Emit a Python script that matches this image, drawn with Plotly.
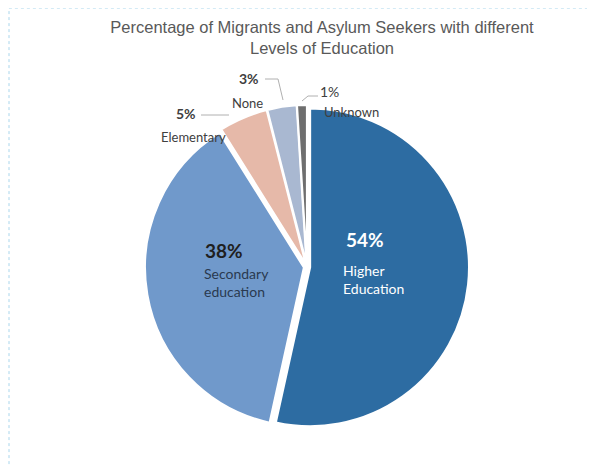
"""
Pie chart: education levels of migrants and asylum seekers.
"""

import plotly.graph_objects as go

# page shows the figure with an 8px body margin
OFF = 8
W, H = 595 - OFF, 466 - OFF

# data
levels = ["Higher Education", "Secondary education", "Elementary", "None", "Unknown"]
shares = [54, 38, 5, 3, 1]
colors = ["#2D6CA2", "#7099CB", "#E6B9A9", "#A9B8D1", "#6E6E6E"]


def px(x, y):
    """page pixel position -> paper coords"""
    return (x - OFF) / W, 1 - (y - OFF) / H


dx0, dy1 = px(145, 105)
dx1, dy0 = px(469, 429)

fig = go.Figure(go.Pie(
    labels=levels,
    values=shares,
    sort=False,
    direction="clockwise",
    rotation=0,
    marker=dict(colors=colors, line=dict(color="white", width=2)),
    pull=[0.02] * len(shares),
    textinfo="none",
    hoverinfo="label+value",
    showlegend=False,
    domain=dict(x=[dx0, dx1], y=[dy0, dy1]),
))

label_font = "Lato, 'Open Sans', sans-serif"
notes = []

# big slices, labels inside
for i, (xy, col) in enumerate([((344, 240), "white"), ((203, 250), "#1F1F1F")]):
    x, y = px(*xy)
    notes.append(dict(x=x, y=y, xanchor="left", yanchor="middle",
                      text=f"<b>{shares[i]}%</b>", showarrow=False,
                      font=dict(family=label_font, size=19, color=col)))
for i, (xy, col, txt) in enumerate([((341, 279), "white", "Higher<br>Education"),
                                    ((202, 282), "#2A3A50", "Secondary<br>education")]):
    x, y = px(*xy)
    notes.append(dict(x=x, y=y, xanchor="left", yanchor="middle", align="left",
                      text=txt, showarrow=False,
                      font=dict(family=label_font, size=14, color=col)))

# small slices, labels outside
outside = [
    ((186, 113), f"<b>{shares[2]}%</b>", 14), ((193, 137), levels[2], 13),
    ((249, 78), f"<b>{shares[3]}%</b>", 14), ((247, 103), levels[3], 13),
    ((329, 91), f"{shares[4]}%", 14), ((351, 112), levels[4], 13),
]
for xy, txt, sz in outside:
    x, y = px(*xy)
    notes.append(dict(x=x, y=y, xanchor="center", yanchor="middle",
                      text=txt, showarrow=False,
                      font=dict(family=label_font, size=sz, color="#404040")))


def path(pts):
    s = "M " + " L ".join("{},{}".format(*px(a, b)) for a, b in pts)
    return dict(type="path", xref="paper", yref="paper", path=s,
                line=dict(color="#B0B0B0", width=1))


bx0, by1 = px(9, 8)
bx1, _ = px(592, 0)
shapes = [
    path([(201, 115), (229, 115)]),
    path([(265, 79), (278, 79), (283, 100)]),
    path([(318, 96), (308, 96), (302, 101)]),
    dict(type="rect", xref="paper", yref="paper",
         x0=bx0, x1=bx1, y0=-0.05, y1=by1,
         line=dict(color="#A9D6EC", width=1, dash="dot")),
]

tx, ty = px(322, 33)
fig.update_layout(
    width=W,
    height=H,
    margin=dict(l=0, r=0, t=0, b=0),
    paper_bgcolor="white",
    title=dict(
        text="Percentage of Migrants and Asylum Seekers with different<br>Levels of Education",
        x=tx, xanchor="center",
        y=ty, yanchor="top",
        font=dict(family="Arial, 'Liberation Sans', sans-serif", size=16.5, color="#595959"),
    ),
    annotations=notes,
    shapes=shapes,
)

fig.write_html("out.html")
